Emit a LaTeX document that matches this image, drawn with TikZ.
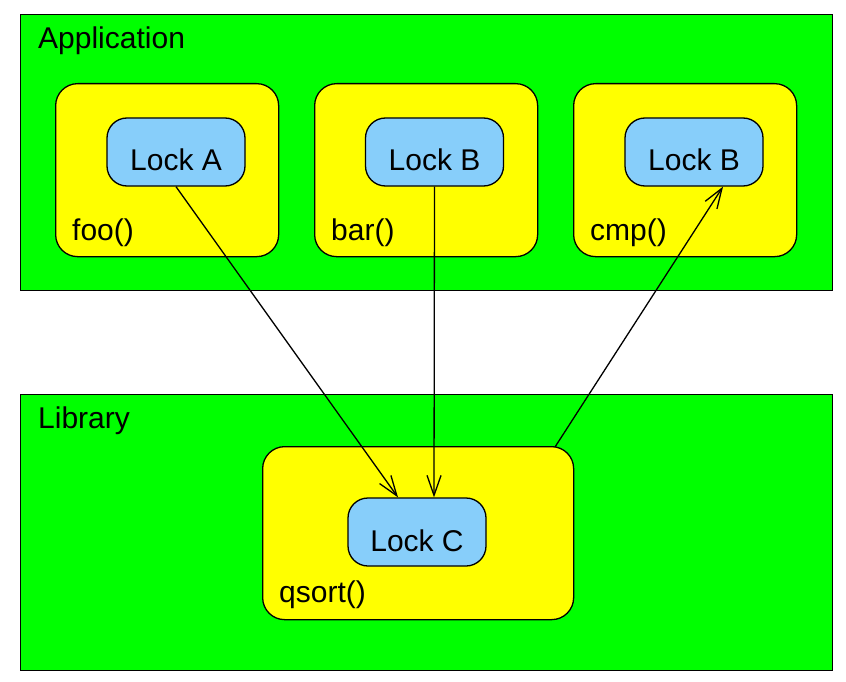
\documentclass[tikz,border=0pt]{standalone}
\usepackage{fontspec}
\setmainfont{Liberation Sans}
\usetikzlibrary{arrows.meta,calc}
\definecolor{appgreen}{HTML}{00FF00}
\definecolor{fnyellow}{HTML}{FFFF00}
\definecolor{lockblue}{HTML}{87CEFA}
\tikzset{
  layer/.style={draw=black,line width=1.2pt,fill=appgreen,anchor=north west,inner sep=0pt},
  fnbox/.style={draw=black,line width=1.3pt,fill=fnyellow,rounded corners=22pt,minimum width=223pt,minimum height=173pt,anchor=north west,inner sep=0pt},
  lockbox/.style={draw=black,line width=1.3pt,fill=lockblue,rounded corners=20pt,minimum width=138pt,minimum height=68pt,inner sep=0pt},
  locktxt/.style={anchor=base,inner sep=0pt,font=\fontsize{30}{36}\selectfont},
  lbl/.style={anchor=base west,inner sep=0pt,font=\fontsize{30}{36}\selectfont},
  dep/.style={line width=1.3pt,-{Straight Barb[length=20pt,width=14pt,line width=1.3pt]}}
}
\begin{document}
\begin{tikzpicture}[x=1pt,y=-1pt]
\useasboundingbox (0,0) rectangle (846,682);
\fill[white] (0,0) rectangle (846,682);
% layers
\node[layer,minimum width=812pt,minimum height=276pt] (app) at (20,14) {};
\node[layer,minimum width=812pt,minimum height=276pt] (lib) at (20,394) {};
\node[lbl] (appl) at (38,49) {Application};
\node[lbl] (libl) at (38,428) {Library};
% function boxes
\node[fnbox] (foo) at (55,83) {};
\node[fnbox] (bar) at (314,83) {};
\node[fnbox] (cmp) at (573,83) {};
\node[fnbox,minimum width=311pt] (qsort) at (262,446) {};
\node[lbl] (fool) at (72,240) {foo()};
\node[lbl] (barl) at (331,240) {bar()};
\node[lbl] (cmpl) at (590,240) {cmp()};
\node[lbl] (qsortl) at (279,602) {qsort()};
% locks
\node[lockbox] (lockA) at (176,152) {};
\node[lockbox] (lockB) at (434.5,152) {};
\node[lockbox] (lockB2) at (694,152) {};
\node[lockbox] (lockC) at (417,532) {};
\node[locktxt] (lockAt) at ($(lockA.center)+(0,19)$) {Lock A};
\node[locktxt] (lockBt) at ($(lockB.center)+(0,19)$) {Lock B};
\node[locktxt] (lockB2t) at ($(lockB2.center)+(0,19)$) {Lock B};
\node[locktxt] (lockCt) at ($(lockC.center)+(0,19)$) {Lock C};
% connector ends
\coordinate (cA) at ($(lockC.north)+(-19,0)$);
\coordinate (cB) at ($(lockC.north)+(17,0)$);
\coordinate (qs) at (555,447);
\coordinate (cB2) at ($(lockB2.south)+(29,0)$);
% connectors
\draw[dep] (lockA.south) -- (cA);
\draw[dep] (lockB.south) -- (cB);
\draw[dep] (qs) -- (cB2);
\end{tikzpicture}
\end{document}
